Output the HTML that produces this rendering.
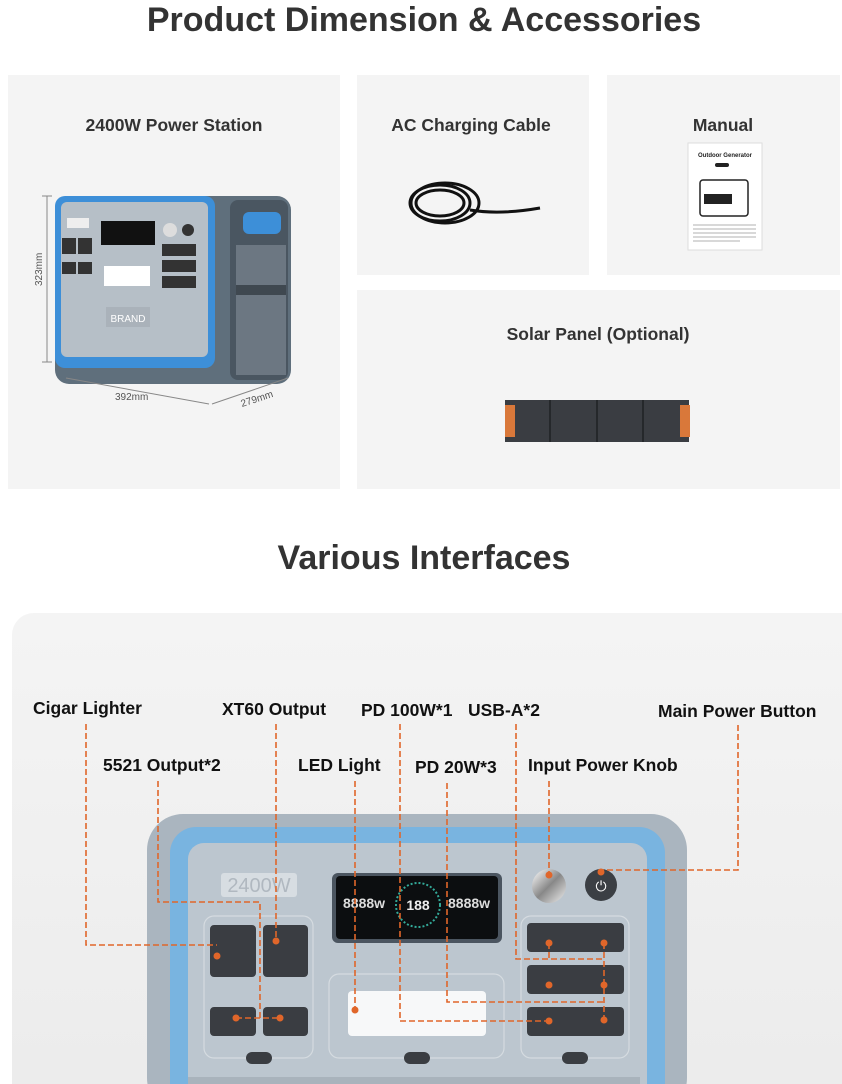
<!DOCTYPE html>
<html><head><meta charset="utf-8"><style>
html,body{margin:0;padding:0;background:#fff;width:842px;height:1084px;overflow:hidden}
svg{display:block}
text{font-family:"Liberation Sans",Arial,sans-serif}
</style></head><body>
<svg width="842" height="1084" viewBox="0 0 842 1084" xmlns="http://www.w3.org/2000/svg">
<defs>
<linearGradient id="knob" x1="0" y1="0" x2="1" y2="1"><stop offset="0" stop-color="#fff"/><stop offset=".5" stop-color="#888"/><stop offset="1" stop-color="#eee"/></linearGradient>
<linearGradient id="bg2" x1="0" y1="0" x2="0" y2="1"><stop offset="0" stop-color="#f4f4f4"/><stop offset="1" stop-color="#ebebeb"/></linearGradient>
</defs>
<text x="424" y="31" text-anchor="middle" font-size="34" font-weight="bold" fill="#333">Product Dimension &amp; Accessories</text>

<rect x="8" y="75" width="332" height="414" fill="#f4f4f4"/>
<rect x="357" y="75" width="232" height="200" fill="#f4f4f4"/>
<rect x="607" y="75" width="233" height="200" fill="#f4f4f4"/>
<rect x="357" y="290" width="483" height="199" fill="#f4f4f4"/>

<text x="174" y="131" text-anchor="middle" font-size="17.5" font-weight="bold" fill="#333">2400W Power Station</text>
<text x="471" y="131" text-anchor="middle" font-size="17.5" font-weight="bold" fill="#333">AC Charging Cable</text>
<text x="723" y="131" text-anchor="middle" font-size="17.5" font-weight="bold" fill="#333">Manual</text>
<text x="598" y="340" text-anchor="middle" font-size="17.5" font-weight="bold" fill="#333">Solar Panel (Optional)</text>

<g>
<rect x="55" y="196" width="236" height="188" rx="14" fill="#5f6f7c"/>
<rect x="230" y="200" width="58" height="180" rx="8" fill="#4a5661"/>
<rect x="243" y="212" width="38" height="22" rx="6" fill="#3d8fd8"/>
<rect x="236" y="245" width="50" height="130" fill="#6c7782"/>
<rect x="236" y="285" width="50" height="10" fill="#3f4850"/>
<rect x="55" y="196" width="160" height="172" rx="10" fill="#3d8fd8"/>
<rect x="61" y="202" width="147" height="155" rx="6" fill="#b6bfc7"/>
<rect x="67" y="218" width="22" height="10" fill="#eee"/>
<rect x="101" y="221" width="54" height="24" fill="#111"/>
<circle cx="170" cy="230" r="7" fill="#ddd"/><circle cx="188" cy="230" r="6" fill="#333"/>
<rect x="62" y="238" width="14" height="16" fill="#333"/><rect x="78" y="238" width="14" height="16" fill="#333"/>
<rect x="62" y="262" width="14" height="12" fill="#333"/><rect x="78" y="262" width="14" height="12" fill="#333"/>
<rect x="162" y="244" width="34" height="12" fill="#333"/><rect x="162" y="260" width="34" height="12" fill="#333"/><rect x="162" y="276" width="34" height="12" fill="#333"/>
<rect x="104" y="266" width="46" height="20" fill="#fff"/>
<rect x="106" y="307" width="44" height="20" fill="#aab2ba"/>
<text x="128" y="322" text-anchor="middle" font-size="10" fill="#fff">BRAND</text>
<line x1="47" y1="196" x2="47" y2="362" stroke="#888"/>
<line x1="42" y1="196" x2="52" y2="196" stroke="#888"/><line x1="42" y1="362" x2="52" y2="362" stroke="#888"/>
<text transform="translate(42,286) rotate(-90)" font-size="10" fill="#555">323mm</text>
<line x1="66" y1="378" x2="209" y2="404" stroke="#888"/>
<line x1="212" y1="404" x2="288" y2="378" stroke="#888"/>
<text x="115" y="400" font-size="10" fill="#555">392mm</text>
<text transform="translate(242,407) rotate(-18)" font-size="10" fill="#555">279mm</text>
</g>

<g fill="none" stroke="#111" stroke-width="3">
<ellipse cx="440" cy="203" rx="30" ry="18"/>
<ellipse cx="440" cy="203" rx="24" ry="13"/>
<ellipse cx="445" cy="203" rx="34" ry="20"/>
<path d="M470 210 Q500 215 540 208"/>
</g>

<rect x="688" y="143" width="74" height="107" fill="#fff" stroke="#ddd"/>
<text x="725" y="157" text-anchor="middle" font-size="6" font-weight="bold" fill="#222">Outdoor Generator</text>
<rect x="715" y="163" width="14" height="4" rx="2" fill="#222"/>
<rect x="700" y="180" width="48" height="36" rx="3" fill="none" stroke="#222" stroke-width="1.5"/>
<rect x="704" y="194" width="28" height="10" fill="#222"/>
<g stroke="#999" stroke-width="0.8"><line x1="693" y1="225" x2="756" y2="225"/><line x1="693" y1="229" x2="756" y2="229"/><line x1="693" y1="233" x2="756" y2="233"/><line x1="693" y1="237" x2="756" y2="237"/><line x1="693" y1="241" x2="740" y2="241"/></g>

<rect x="505" y="400" width="184" height="42" fill="#3a3d42"/>
<rect x="505" y="405" width="10" height="32" fill="#d9783a"/>
<rect x="680" y="405" width="10" height="32" fill="#d9783a"/>
<g stroke="#25282b" stroke-width="2"><line x1="550" y1="400" x2="550" y2="442"/><line x1="597" y1="400" x2="597" y2="442"/><line x1="643" y1="400" x2="643" y2="442"/></g>

<text x="424" y="569" text-anchor="middle" font-size="34" font-weight="bold" fill="#333">Various Interfaces</text>
<rect x="12" y="613" width="860" height="520" rx="22" fill="url(#bg2)"/>

<rect x="147" y="814" width="540" height="300" rx="36" fill="#aab5bf"/>
<rect x="170" y="827" width="495" height="290" rx="26" fill="#79b4e0"/>
<rect x="188" y="843" width="459" height="280" rx="16" fill="#bcc6cf"/>
<rect x="188" y="1077" width="452" height="10" fill="#a9b3bc"/>
<rect x="221" y="873" width="76" height="24" rx="3" fill="#d7dde2"/>
<text x="259" y="892" text-anchor="middle" font-size="20" fill="#b0b8c0">2400W</text>
<rect x="332" y="873" width="170" height="70" rx="6" fill="#4b5560"/>
<rect x="336" y="876" width="162" height="63" rx="4" fill="#0c0e10"/>
<text x="343" y="908" font-size="14" font-weight="bold" fill="#ddd">8888w</text>
<circle cx="418" cy="905" r="22" fill="none" stroke="#3a9" stroke-width="2" stroke-dasharray="2 2"/>
<text x="418" y="910" text-anchor="middle" font-size="14" font-weight="bold" fill="#eee">188</text>
<text x="448" y="908" font-size="14" font-weight="bold" fill="#ddd">8888w</text>
<circle cx="549" cy="886" r="17" fill="url(#knob)"/>
<circle cx="601" cy="885" r="16" fill="#3b3f44"/>
<text x="601" y="891" text-anchor="middle" font-size="14" fill="#fff">⏻</text>
<g fill="none" stroke="#d5dbe0" stroke-width="1.2">
<rect x="204" y="916" width="109" height="142" rx="10"/>
<rect x="329" y="974" width="175" height="84" rx="10"/>
<rect x="521" y="916" width="108" height="142" rx="10"/>
</g>
<g fill="#3a3d42">
<rect x="210" y="925" width="46" height="52" rx="4"/><rect x="263" y="925" width="45" height="52" rx="4"/>
<rect x="210" y="1007" width="46" height="29" rx="4"/><rect x="263" y="1007" width="45" height="29" rx="4"/>
<rect x="527" y="923" width="97" height="29" rx="4"/><rect x="527" y="965" width="97" height="29" rx="4"/><rect x="527" y="1007" width="97" height="29" rx="4"/>
<rect x="246" y="1052" width="26" height="12" rx="6"/><rect x="404" y="1052" width="26" height="12" rx="6"/><rect x="562" y="1052" width="26" height="12" rx="6"/>
</g>
<rect x="348" y="991" width="138" height="45" rx="4" fill="#f7f8f9"/>

<g font-size="17.5" font-weight="bold" fill="#111">
<text x="33" y="714">Cigar Lighter</text>
<text x="222" y="715">XT60 Output</text>
<text x="361" y="716">PD 100W*1</text>
<text x="468" y="716">USB-A*2</text>
<text x="658" y="717">Main Power Button</text>
<text x="103" y="771">5521 Output*2</text>
<text x="298" y="771">LED Light</text>
<text x="415" y="773">PD 20W*3</text>
<text x="528" y="771">Input Power Knob</text>
</g>
<g fill="none" stroke="#e0662a" stroke-width="1.6" stroke-dasharray="6 3">
<path d="M86 724 V945 H217"/>
<path d="M276 724 V941"/>
<path d="M158 781 V902 H260 V1018"/><path d="M236 1018 H280"/>
<path d="M355 781 V1010"/>
<path d="M400 724 V1021 H549"/>
<path d="M447 783 V1002 H604"/><path d="M604 943 V1020"/>
<path d="M516 724 V959 H604"/><path d="M549 943 V959"/>
<path d="M549 781 V873"/>
<path d="M738 725 V870 H601"/>
</g>
<g fill="#e0662a">
<circle cx="217" cy="956" r="3.5"/><circle cx="276" cy="941" r="3.5"/>
<circle cx="236" cy="1018" r="3.5"/><circle cx="280" cy="1018" r="3.5"/>
<circle cx="355" cy="1010" r="3.5"/><circle cx="549" cy="1021" r="3.5"/>
<circle cx="549" cy="943" r="3.5"/><circle cx="604" cy="943" r="3.5"/>
<circle cx="549" cy="985" r="3.5"/><circle cx="604" cy="985" r="3.5"/><circle cx="604" cy="1020" r="3.5"/>
<circle cx="549" cy="875" r="3.5"/><circle cx="601" cy="872" r="3.5"/>
</g>
</svg>
</body></html>
